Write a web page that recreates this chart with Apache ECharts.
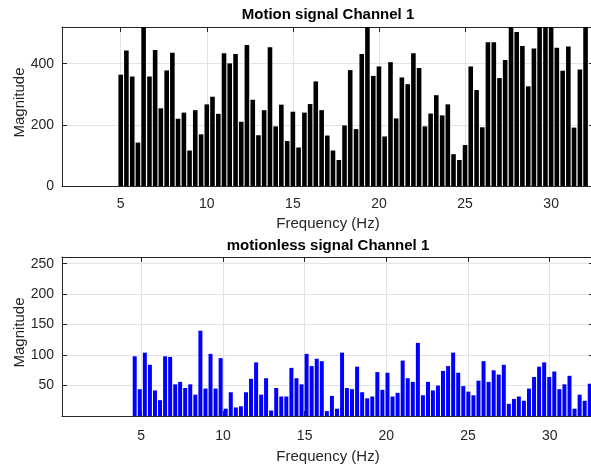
<!DOCTYPE html>
<html><head><meta charset="utf-8">
<script src="https://cdn.jsdelivr.net/npm/echarts@6/dist/echarts.min.js"></script>
<style>html,body{margin:0;padding:0;background:#fff}#c{width:591px;height:466px}</style>
</head><body><div id="c"></div>
<script>
// Top panel: Motion signal Channel 1
const motionTitle = 'Motion signal Channel 1';
const motionFreq = [5.00,5.33,5.67,6.00,6.33,6.67,7.00,7.33,7.67,8.00,8.33,8.67,9.00,9.33,9.67,10.00,10.33,10.67,11.00,11.33,11.67,12.00,12.33,12.67,13.00,13.33,13.67,14.00,14.33,14.67,15.00,15.33,15.67,16.00,16.33,16.67,17.00,17.33,17.67,18.00,18.33,18.67,19.00,19.33,19.67,20.00,20.33,20.67,21.00,21.33,21.67,22.00,22.33,22.67,23.00,23.33,23.67,24.00,24.33,24.67,25.00,25.33,25.67,26.00,26.33,26.67,27.00,27.33,27.67,28.00,28.33,28.67,29.00,29.33,29.67,30.00,30.33,30.67,31.00,31.33,31.67,32.00];
const motionMag = [364,443,358,142,540,358,445,254,378,436,220,240,116,248,169,267,292,236,434,401,432,210,461,282,166,248,454,195,266,147,243,126,240,268,342,248,165,116,85,198,379,186,432,540,360,391,162,405,221,355,333,434,386,195,237,297,231,267,104,85,134,391,314,192,470,470,353,412,540,504,458,326,450,540,540,540,452,377,456,191,381,540];

// Bottom panel: motionless signal Channel 1
const stillTitle = 'motionless signal Channel 1';
const stillFreq = [4.60,4.91,5.22,5.53,5.84,6.15,6.46,6.77,7.08,7.38,7.69,8.00,8.31,8.62,8.93,9.24,9.55,9.86,10.17,10.48,10.79,11.10,11.41,11.72,12.03,12.34,12.64,12.95,13.26,13.57,13.88,14.19,14.50,14.81,15.12,15.43,15.74,16.05,16.36,16.67,16.98,17.29,17.59,17.90,18.21,18.52,18.83,19.14,19.45,19.76,20.07,20.38,20.69,21.00,21.31,21.62,21.93,22.24,22.55,22.85,23.16,23.47,23.78,24.09,24.40,24.71,25.02,25.33,25.64,25.95,26.26,26.57,26.88,27.19,27.50,27.81,28.11,28.42,28.73,29.04,29.35,29.66,29.97,30.28,30.59,30.90,31.21,31.52,31.83,32.14,32.45];
const stillMag = [98,44,104,84,42,26,98,97,52,56,46,52,35,140,45,102,45,95,12,39,14,16,39,61,88,35,62,9,46,32,32,79,62,52,102,82,94,90,8,33,12,104,46,44,81,39,29,32,72,43,71,32,38,91,62,56,120,34,56,42,50,74,82,104,71,49,40,34,58,90,56,75,68,84,20,28,32,25,45,64,81,88,64,73,44,52,66,12,35,25,53];

const xName = 'Frequency (Hz)';
const yName = 'Magnitude';

const FONT = '"Liberation Sans", Arial, Helvetica, sans-serif';
const AX = '#262626';
const GRIDC = '#e3e3e3';

function xFmt(v){ return Math.abs(v/5 - Math.round(v/5)) < 1e-6 ? String(Math.round(v)) : ''; }

function bottomX(gi, min, max, margin, gap){
  return {
    type:'value', gridIndex:gi, position:'bottom', min:min, max:max,
    name:xName, nameLocation:'middle', nameGap:gap, nameMoveOverlap:false,
    nameTextStyle:{color:AX, fontSize:15, fontFamily:FONT},
    axisLine:{show:true, onZero:false, lineStyle:{color:AX, width:1}},
    axisTick:{show:true, inside:true, length:5, lineStyle:{color:AX}},
    axisLabel:{color:AX, fontSize:14, fontFamily:FONT, margin:margin, formatter:xFmt, showMinLabel:true, showMaxLabel:true},
    splitLine:{show:true, lineStyle:{color:GRIDC, width:1}}
  };
}
function topX(gi, min, max){
  return {
    type:'value', gridIndex:gi, position:'top', min:min, max:max,
    axisLine:{show:true, onZero:false, lineStyle:{color:AX, width:1}},
    axisTick:{show:true, inside:true, length:5, lineStyle:{color:AX}},
    axisLabel:{show:false}, splitLine:{show:false}
  };
}
function leftY(gi, min, max, interval, fmt){
  return {
    type:'value', gridIndex:gi, position:'left', min:min, max:max, interval:interval,
    name:yName, nameLocation:'middle', nameGap:35, nameMoveOverlap:false,
    nameTextStyle:{color:AX, fontSize:15, fontFamily:FONT, padding:[0,0,0,8]},
    axisLine:{show:true, onZero:false, lineStyle:{color:AX, width:1}},
    axisTick:{show:true, inside:true, length:5, lineStyle:{color:AX}},
    axisLabel:{color:AX, fontSize:14, fontFamily:FONT, margin:8, formatter:fmt},
    splitLine:{show:true, lineStyle:{color:GRIDC, width:1}}
  };
}
function rightY(gi, min, max, interval){
  return {
    type:'value', gridIndex:gi, position:'right', min:min, max:max, interval:interval,
    axisLine:{show:true, onZero:false, lineStyle:{color:AX, width:1}},
    axisTick:{show:true, inside:true, length:5, lineStyle:{color:AX}},
    axisLabel:{show:false}, splitLine:{show:false}
  };
}

const chart = echarts.init(document.getElementById('c'), null, {renderer:'canvas'});
chart.setOption({
  backgroundColor:'#fff',
  animation:false,
  grid:[
    {left:62, top:27, right:-3, height:159, containLabel:false, outerBoundsMode:'none'},
    {left:62, top:257, right:-3, height:159, containLabel:false, outerBoundsMode:'none'}
  ],
  xAxis:[
    bottomX(0, 1.59, 32.49, 11, 30),
    topX(0, 1.59, 32.49),
    bottomX(1, 0.15, 32.71, 13, 33),
    topX(1, 0.15, 32.71)
  ],
  yAxis:[
    leftY(0, 0, 520, 200, v => (v % 200 === 0 ? String(v) : '')),
    rightY(0, 0, 520, 200),
    leftY(1, 0, 261, 50, v => (v > 0 && v % 50 === 0 ? String(v) : '')),
    rightY(1, 0, 261, 50)
  ],
  graphic:[
    {type:'text', x:328, y:15, style:{text:motionTitle, fill:'#000', font:'bold 15px ' + FONT, textAlign:'center', textVerticalAlign:'middle'}},
    {type:'text', x:328, y:246, style:{text:stillTitle, fill:'#000', font:'bold 15px ' + FONT, textAlign:'center', textVerticalAlign:'middle'}}
  ],
  series:[
    {type:'bar', xAxisIndex:0, yAxisIndex:0, barWidth:4.6, clip:true,
     itemStyle:{color:'#000'}, data:motionFreq.map((f,i)=>[f, motionMag[i]])},
    {type:'bar', xAxisIndex:2, yAxisIndex:2, barWidth:4, clip:true,
     itemStyle:{color:'#0000ff'}, data:stillFreq.map((f,i)=>[f, stillMag[i]])}
  ]
});
</script>
</body></html>
